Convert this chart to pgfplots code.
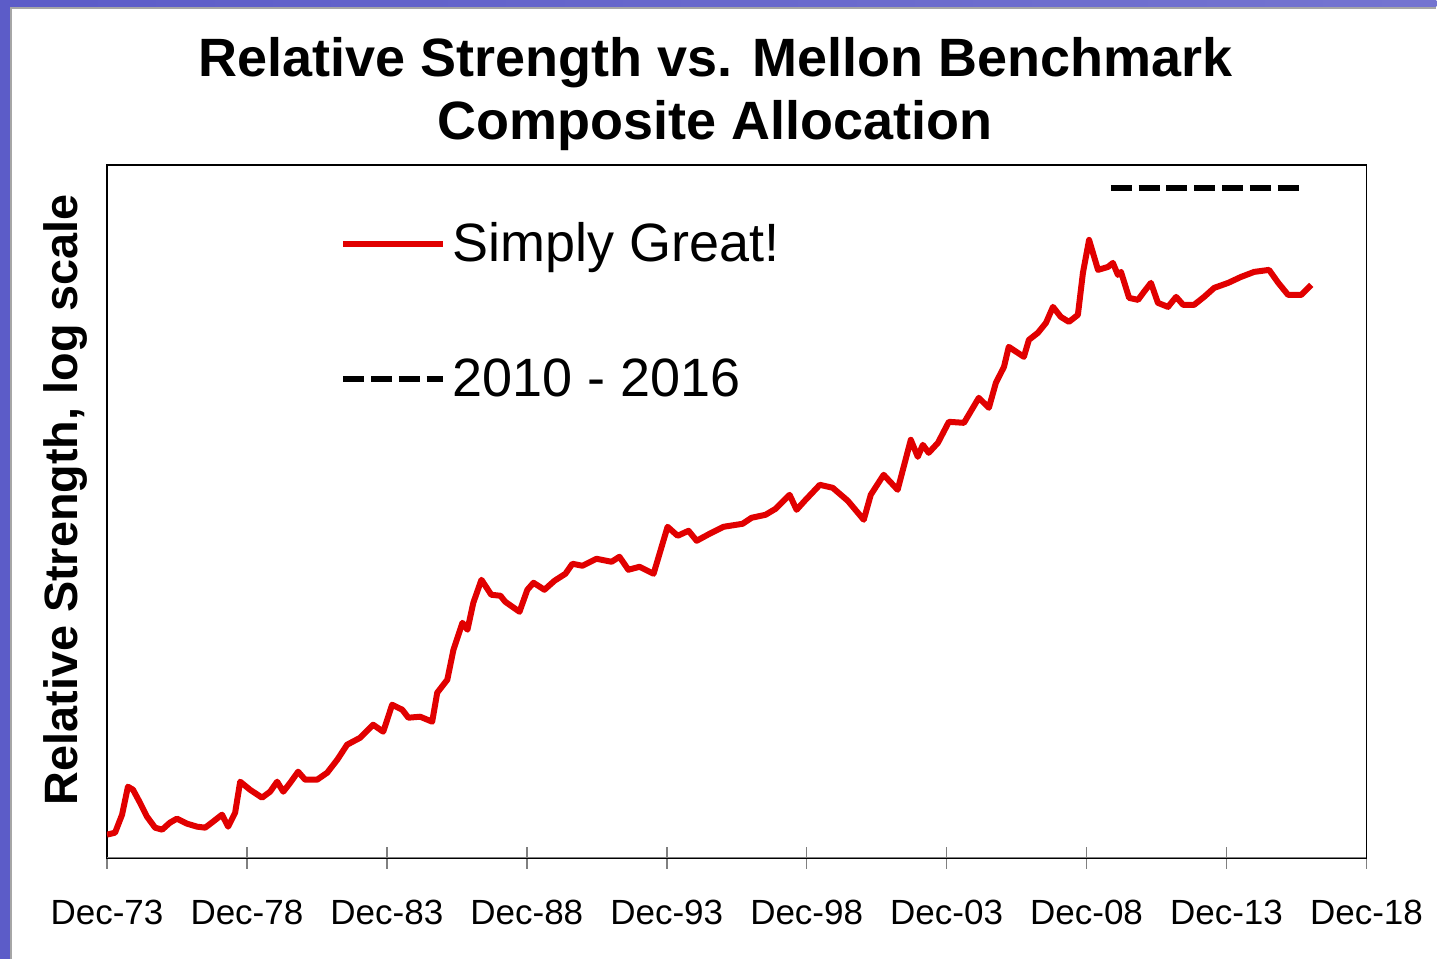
\documentclass[border=0pt]{standalone}
\usepackage{fontspec}
\setmainfont{Liberation Sans}
\usepackage{pgfplots}
\pgfplotsset{compat=1.18}
\pgfdeclarelayer{background}
\pgfsetlayers{background,main}
\definecolor{rsred}{RGB}{225,0,0}
\definecolor{frameblue}{RGB}{92,92,200}
\definecolor{framelight}{RGB}{150,150,228}

\begin{document}
\begin{tikzpicture}
\begin{axis}[
    name=ax, at={(0,0)}, anchor=south west,
    scale only axis, width=630pt, height=346.5pt,
    xmin=1973.92, xmax=2018.92, ymin=0, ymax=6.93,
    ytick=\empty,
    xtick={1973.92,1978.92,1983.92,1988.92,1993.92,1998.92,2003.92,2008.92,2013.92,2018.92},
    xticklabels={Dec-73,Dec-78,Dec-83,Dec-88,Dec-93,Dec-98,Dec-03,Dec-08,Dec-13,Dec-18},
    xtick pos=bottom, tick align=center, major tick length=11pt,
    x tick style={gray, line width=0.8pt},
    xticklabel style={font=\fontsize{17.5}{20}\selectfont, yshift=-12pt},
    axis line style={line width=0.9pt},
    title={Relative Strength vs. Mellon\ Benchmark\\Composite Allocation},
    title style={font=\bfseries\fontsize{27}{31.5}\selectfont, align=center, inner sep=0pt,
        at={(axis description cs:0.483,1)}, anchor=south, yshift=0.8pt},
    ylabel={Relative Strength, log scale},
    every axis y label/.style={at={([xshift=-14.5pt]axis description cs:0,0.5166)},
        rotate=90, anchor=base, font=\bfseries\fontsize{23.4}{28}\selectfont},
    legend image code/.code={\draw[#1] (0pt,0pt) -- (50pt,0pt);},
    legend style={at={(axis description cs:0.1849,0.92)}, anchor=north west,
        draw=none, fill=none, font=\fontsize{27}{32}\selectfont,
        row sep=45pt, inner sep=0pt, nodes={inner sep=1pt}, column sep=2pt},
    legend cell align=left,
]
\addplot[rsred, line width=3pt, line join=round] coordinates {
(1973.92,0.23) (1974.21,0.25) (1974.46,0.43) (1974.67,0.71) (1974.85,0.68)
(1975.10,0.55) (1975.35,0.41) (1975.64,0.30) (1975.89,0.28) (1976.17,0.35)
(1976.42,0.39) (1976.78,0.34) (1977.14,0.31) (1977.43,0.30) (1977.71,0.36)
(1978.03,0.43) (1978.25,0.31) (1978.50,0.45) (1978.68,0.76) (1979.03,0.68)
(1979.46,0.60) (1979.75,0.66) (1980.00,0.76) (1980.22,0.66) (1980.47,0.75)
(1980.75,0.86) (1981.00,0.78) (1981.43,0.78) (1981.79,0.85) (1982.15,0.98)
(1982.50,1.13) (1982.97,1.20) (1983.43,1.33) (1983.79,1.26) (1984.11,1.53)
(1984.47,1.48) (1984.69,1.40) (1985.11,1.41) (1985.54,1.36) (1985.72,1.65)
(1986.08,1.78) (1986.30,2.08) (1986.62,2.35) (1986.80,2.28) (1987.01,2.55)
(1987.30,2.78) (1987.65,2.63) (1987.98,2.62) (1988.15,2.56) (1988.66,2.46)
(1988.94,2.68) (1989.16,2.75) (1989.55,2.68) (1989.91,2.77) (1990.30,2.84)
(1990.55,2.94) (1990.91,2.92) (1991.41,2.99) (1991.95,2.96) (1992.23,3.01)
(1992.55,2.88) (1992.95,2.91) (1993.45,2.84) (1993.95,3.31) (1994.31,3.22)
(1994.70,3.27) (1994.99,3.17) (1995.45,3.24) (1995.95,3.31) (1996.63,3.34)
(1996.95,3.40) (1997.45,3.43) (1997.81,3.49) (1998.31,3.63) (1998.56,3.48)
(1998.85,3.57) (1999.39,3.73) (1999.85,3.70) (2000.39,3.57) (2000.96,3.38)
(2001.21,3.63) (2001.67,3.83) (2002.17,3.68) (2002.64,4.18) (2002.89,4.01)
(2003.07,4.13) (2003.28,4.05) (2003.61,4.15) (2004.00,4.36) (2004.54,4.35)
(2005.07,4.60) (2005.43,4.50) (2005.68,4.75) (2005.97,4.91) (2006.14,5.11)
(2006.68,5.01) (2006.86,5.18) (2007.18,5.25) (2007.47,5.35) (2007.72,5.51)
(2008.00,5.41) (2008.29,5.36) (2008.61,5.43) (2008.79,5.85) (2009.01,6.18)
(2009.33,5.88) (2009.69,5.91) (2009.86,5.95) (2010.04,5.83) (2010.15,5.86)
(2010.44,5.60) (2010.76,5.58) (2010.97,5.66) (2011.22,5.75) (2011.47,5.55)
(2011.83,5.51) (2012.12,5.61) (2012.37,5.53) (2012.76,5.53) (2013.12,5.61)
(2013.48,5.70) (2013.98,5.75) (2014.44,5.81) (2014.91,5.86) (2015.44,5.88)
(2015.77,5.75) (2016.12,5.63) (2016.59,5.63) (2016.95,5.73)
};
\addlegendentry{Simply Great!}
\addplot[black, line width=2.8pt, dash pattern=on 10.5pt off 3.4pt] coordinates {
(2009.79,6.70) (2016.52,6.70)
};
\addlegendentry{2010 - 2016}
\draw[gray, line width=1pt] (rel axis cs:0,0) -- (rel axis cs:1,0);
\end{axis}
\begin{pgfonlayer}{background}
\fill[frameblue] (-53.5pt,-50.5pt) rectangle (665pt,429pt);
\shade[left color=frameblue, middle color=framelight, right color=frameblue!85!white]
    (-48.5pt,425.5pt) rectangle (665pt,429pt);
\fill[white] (-48.5pt,-50.5pt) rectangle (665pt,425.5pt);
\draw[gray!70, line width=0.6pt] (-48pt,-50.5pt) -- (-48pt,425pt) -- (665pt,425pt);
\end{pgfonlayer}
\end{tikzpicture}
\end{document}
